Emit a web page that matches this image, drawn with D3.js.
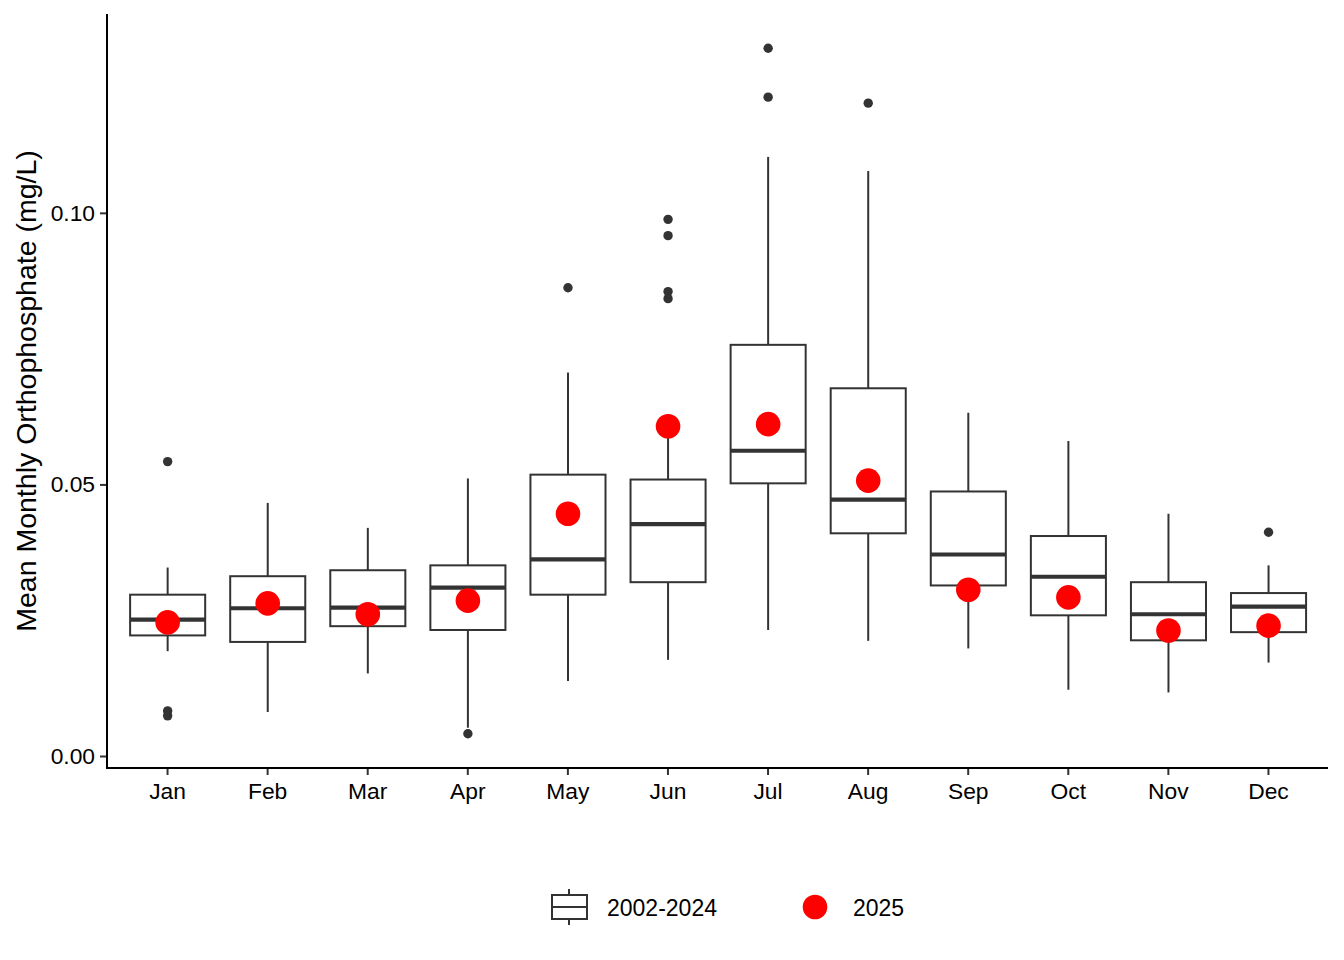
<!DOCTYPE html>
<html>
<head>
<meta charset="utf-8">
<script src="https://cdn.jsdelivr.net/npm/d3@7"></script>
<style>
  body { margin: 0; background: #fff; }
  text { font-family: "Liberation Sans", Arial, sans-serif; }
</style>
</head>
<body>
<div id="chart"></div>
<script>
// monthly summary (2002-2024 boxplots) plus 2025 means
var months = ["Jan", "Feb", "Mar", "Apr", "May", "Jun", "Jul", "Aug", "Sep", "Oct", "Nov", "Dec"];
var lowWhisker = [0.0193, 0.0081, 0.0152, 0.0052, 0.0138, 0.0177, 0.0232, 0.0212, 0.0198, 0.0122, 0.0117, 0.0172];
var q1 = [0.0222, 0.0210, 0.0239, 0.0232, 0.0297, 0.0320, 0.0502, 0.0410, 0.0314, 0.0259, 0.0213, 0.0228];
var median = [0.0251, 0.0272, 0.0273, 0.0310, 0.0362, 0.0427, 0.0562, 0.0472, 0.0371, 0.0330, 0.0261, 0.0275];
var q3 = [0.0297, 0.0331, 0.0342, 0.0351, 0.0518, 0.0509, 0.0757, 0.0677, 0.0487, 0.0405, 0.0320, 0.0300];
var highWhisker = [0.0347, 0.0466, 0.0420, 0.0511, 0.0706, 0.0592, 0.1103, 0.1077, 0.0632, 0.0580, 0.0446, 0.0351];
var outliers = [
    [0.0542, 0.0083, 0.0074],
    [],
    [],
    [0.0041],
    [0.0862],
    [0.0988, 0.0958, 0.0855, 0.0842],
    [0.1303, 0.1213],
    [0.1202],
    [],
    [],
    [],
    [0.0412]
];
var value2025 = [0.0246, 0.0281, 0.0261, 0.0286, 0.0446, 0.0607, 0.0611, 0.0507, 0.0306, 0.0292, 0.0231, 0.0240];
var yTicks = [0, 0.05, 0.10];

var svgWidth = 1344;
var svgHeight = 960;

var margin = {
    top: 14,
    right: 16,
    bottom: 192,
    left: 107
};

var width = svgWidth - margin.left - margin.right;
var height = svgHeight - margin.top - margin.bottom;

var ink = "#333333";

var svg = d3.select("#chart")
    .append("svg")
    .attr("width", svgWidth)
    .attr("height", svgHeight);

var chartGroup = svg.append("g")
    .attr("transform", `translate(${margin.left}, ${margin.top})`);

var boxData = months.map(function(m, i) {
    return {
        month: m,
        lo: lowWhisker[i],
        q1: q1[i],
        med: median[i],
        q3: q3[i],
        hi: highWhisker[i],
        out: outliers[i],
        now: value2025[i]
    };
});

// ggplot-like 5% expansion on the y range
var allVals = d3.merge([lowWhisker, highWhisker, value2025, d3.merge(outliers)]);
var yMin = d3.min(allVals), yMax = d3.max(allVals);
var pad = (yMax - yMin) * 0.05;

var xScale = d3.scalePoint()
    .domain(months)
    .range([0, width])
    .padding(0.6);

var yScale = d3.scaleLinear()
    .domain([yMin - pad, yMax + pad])
    .range([height, 0]);

var boxWidth = xScale.step() * 0.75;

// axes
var bottomAxis = d3.axisBottom(xScale).tickSize(7).tickPadding(8);
var leftAxis = d3.axisLeft(yScale).tickValues(yTicks).tickFormat(d3.format(".2f")).tickSize(7).tickPadding(5);

var xAxis = chartGroup.append("g")
    .attr("transform", `translate(0, ${height})`)
    .call(bottomAxis);

var yAxis = chartGroup.append("g")
    .call(leftAxis);

[xAxis, yAxis].forEach(function(ax) {
    ax.select(".domain").remove();
    ax.selectAll("line").attr("stroke", ink).attr("stroke-width", 2);
    ax.selectAll("text").attr("fill", "#000").style("font-size", "22.8px");
});

chartGroup.append("line")
    .attr("x1", 0).attr("x2", 0)
    .attr("y1", 0).attr("y2", height + 1)
    .attr("stroke", "#000").attr("stroke-width", 2);

chartGroup.append("line")
    .attr("x1", -1).attr("x2", width)
    .attr("y1", height).attr("y2", height)
    .attr("stroke", "#000").attr("stroke-width", 2);

// boxes
var boxes = chartGroup.selectAll(".box")
    .data(boxData)
    .enter().append("g")
    .classed("box", true)
    .attr("transform", d => `translate(${xScale(d.month) + 0.6}, 0)`);

boxes.append("line")
    .attr("x1", 0).attr("x2", 0)
    .attr("y1", d => yScale(d.hi))
    .attr("y2", d => yScale(d.q3))
    .attr("stroke", ink).attr("stroke-width", 2);

boxes.append("line")
    .attr("x1", 0).attr("x2", 0)
    .attr("y1", d => yScale(d.q1))
    .attr("y2", d => yScale(d.lo))
    .attr("stroke", ink).attr("stroke-width", 2);

boxes.append("rect")
    .attr("x", -boxWidth / 2)
    .attr("width", boxWidth)
    .attr("y", d => yScale(d.q3))
    .attr("height", d => yScale(d.q1) - yScale(d.q3))
    .attr("fill", "#fff")
    .attr("stroke", ink).attr("stroke-width", 2);

boxes.append("line")
    .attr("x1", -boxWidth / 2).attr("x2", boxWidth / 2)
    .attr("y1", d => yScale(d.med))
    .attr("y2", d => yScale(d.med))
    .attr("stroke", ink).attr("stroke-width", 4.2);

boxes.selectAll(".outlier")
    .data(d => d.out)
    .enter().append("circle")
    .classed("outlier", true)
    .attr("cx", 0)
    .attr("cy", d => yScale(d))
    .attr("r", 4.7)
    .attr("fill", ink);

// 2025 points
chartGroup.append("g")
    .selectAll("circle")
    .data(boxData)
    .enter().append("circle")
    .attr("cx", d => xScale(d.month) + 0.6)
    .attr("cy", d => yScale(d.now))
    .attr("r", 12.3)
    .attr("fill", "#ff0000");

// y title
svg.append("text")
    .attr("transform", `translate(36, ${margin.top + height / 2}) rotate(-90)`)
    .attr("text-anchor", "middle")
    .style("font-size", "28.5px")
    .attr("fill", "#000")
    .text("Mean Monthly Orthophosphate (mg/L)");

// legend
var legend = svg.append("g")
    .attr("transform", "translate(551, 907)");

legend.append("line")
    .attr("x1", 18).attr("x2", 18)
    .attr("y1", -18).attr("y2", 18)
    .attr("stroke", ink).attr("stroke-width", 2);

legend.append("rect")
    .attr("x", 1).attr("y", -12)
    .attr("width", 35).attr("height", 24)
    .attr("fill", "#fff")
    .attr("stroke", ink).attr("stroke-width", 2);

legend.append("line")
    .attr("x1", 1).attr("x2", 36)
    .attr("y1", 0).attr("y2", 0)
    .attr("stroke", ink).attr("stroke-width", 2);

legend.append("text")
    .attr("x", 56).attr("y", 9)
    .style("font-size", "23px")
    .attr("fill", "#000")
    .text("2002-2024");

legend.append("circle")
    .attr("cx", 264).attr("cy", 0)
    .attr("r", 12.3)
    .attr("fill", "#ff0000");

legend.append("text")
    .attr("x", 302).attr("y", 9)
    .style("font-size", "23px")
    .attr("fill", "#000")
    .text("2025");
</script>
</body>
</html>
